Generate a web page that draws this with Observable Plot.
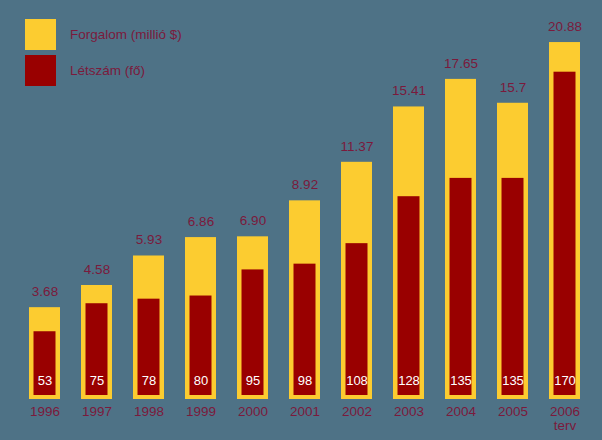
<!DOCTYPE html>
<html>
<head>
<meta charset="utf-8">
<script src="https://cdn.jsdelivr.net/npm/d3@7"></script>
<script src="https://cdn.jsdelivr.net/npm/@observablehq/plot@0.6"></script>
<style>
  html, body { margin: 0; padding: 0; background: #4e7286; }
  #chart { position: relative; width: 602px; height: 440px; background: #4e7286; overflow: hidden;
           font-family: "Liberation Sans", Arial, sans-serif; }
  #chart svg { position: absolute; left: 0; top: 0; }
  .swatch { position: absolute; left: 25px; width: 31px; height: 31px; }
  .ltext { position: absolute; left: 70px; font-size: 13.5px; color: #7b1a3c; line-height: 16px; }
</style>
</head>
<body>
<div id="chart">
  <div class="swatch" style="top:19px;background:#fccc30"></div>
  <div class="ltext" style="top:27px">Forgalom (millió $)</div>
  <div class="swatch" style="top:55px;background:#990000"></div>
  <div class="ltext" style="top:63px">Létszám (fő)</div>
</div>
<script>
// ---- data ----
const years = ["1996","1997","1998","1999","2000","2001","2002","2003","2004","2005","2006"];
const yearLabels = ["1996","1997","1998","1999","2000","2001","2002","2003","2004","2005","2006\nterv"];
const revenue = [3.68, 4.58, 5.93, 6.86, 6.90, 8.92, 11.37, 15.41, 17.65, 15.7, 20.88];
const revenueLabels = ["3.68","4.58","5.93","6.86","6.90","8.92","11.37","15.41","17.65","15.7","20.88"];
const staff = [53, 75, 78, 80, 95, 98, 108, 128, 135, 135, 170];

const yellow = "#fccc30";
const red = "#990000";
const labelColor = "#7b1a3c";

const data = years.map((year, i) => ({
  year, revenue: revenue[i], revenueLabel: revenueLabels[i], staff: staff[i]
}));

const W = 602, H = 440;
const xScale = { type: "band", domain: years, range: [5.5, 604], padding: 0.41 };

const yellowPlot = Plot.plot({
  width: W, height: H,
  marginTop: 0, marginBottom: 41, marginLeft: 0, marginRight: 0,
  style: { background: "transparent", color: labelColor, fontSize: "13.5px",
           fontFamily: "'Liberation Sans', Arial, sans-serif" },
  x: { ...xScale, tickSize: 0, tickPadding: 7, label: null,
       tickFormat: d => yearLabels[years.indexOf(d)] },
  y: { type: "sqrt", domain: [1, 22], range: [399, 399 - 100 * (Math.sqrt(22) - 1)], axis: null },
  marks: [
    Plot.barY(data, { x: "year", y1: 1, y2: "revenue", fill: yellow }),
    Plot.text(data, { x: "year", y: "revenue", text: "revenueLabel", dy: -16,
                      fill: labelColor, fontSize: 13.5 })
  ]
});

const redPlot = Plot.plot({
  width: W, height: H,
  marginTop: 0, marginBottom: 41, marginLeft: 0, marginRight: 0,
  style: { background: "transparent", fontFamily: "'Liberation Sans', Arial, sans-serif" },
  x: { ...xScale, axis: null },
  y: { type: "pow", exponent: 2, domain: [-60, 170], range: [395, 71.7], axis: null },
  marks: [
    Plot.barY(data, { x: "year", y1: -60, y2: "staff", fill: red, insetLeft: 4.5, insetRight: 4.5 }),
    Plot.text(data, { x: "year", frameAnchor: "bottom", dy: -14.5, text: d => String(d.staff),
                      fill: "white", fontSize: 13 })
  ]
});

const chart = document.getElementById("chart");
chart.insertBefore(redPlot, chart.firstChild);
chart.insertBefore(yellowPlot, chart.firstChild);
</script>
</body>
</html>
